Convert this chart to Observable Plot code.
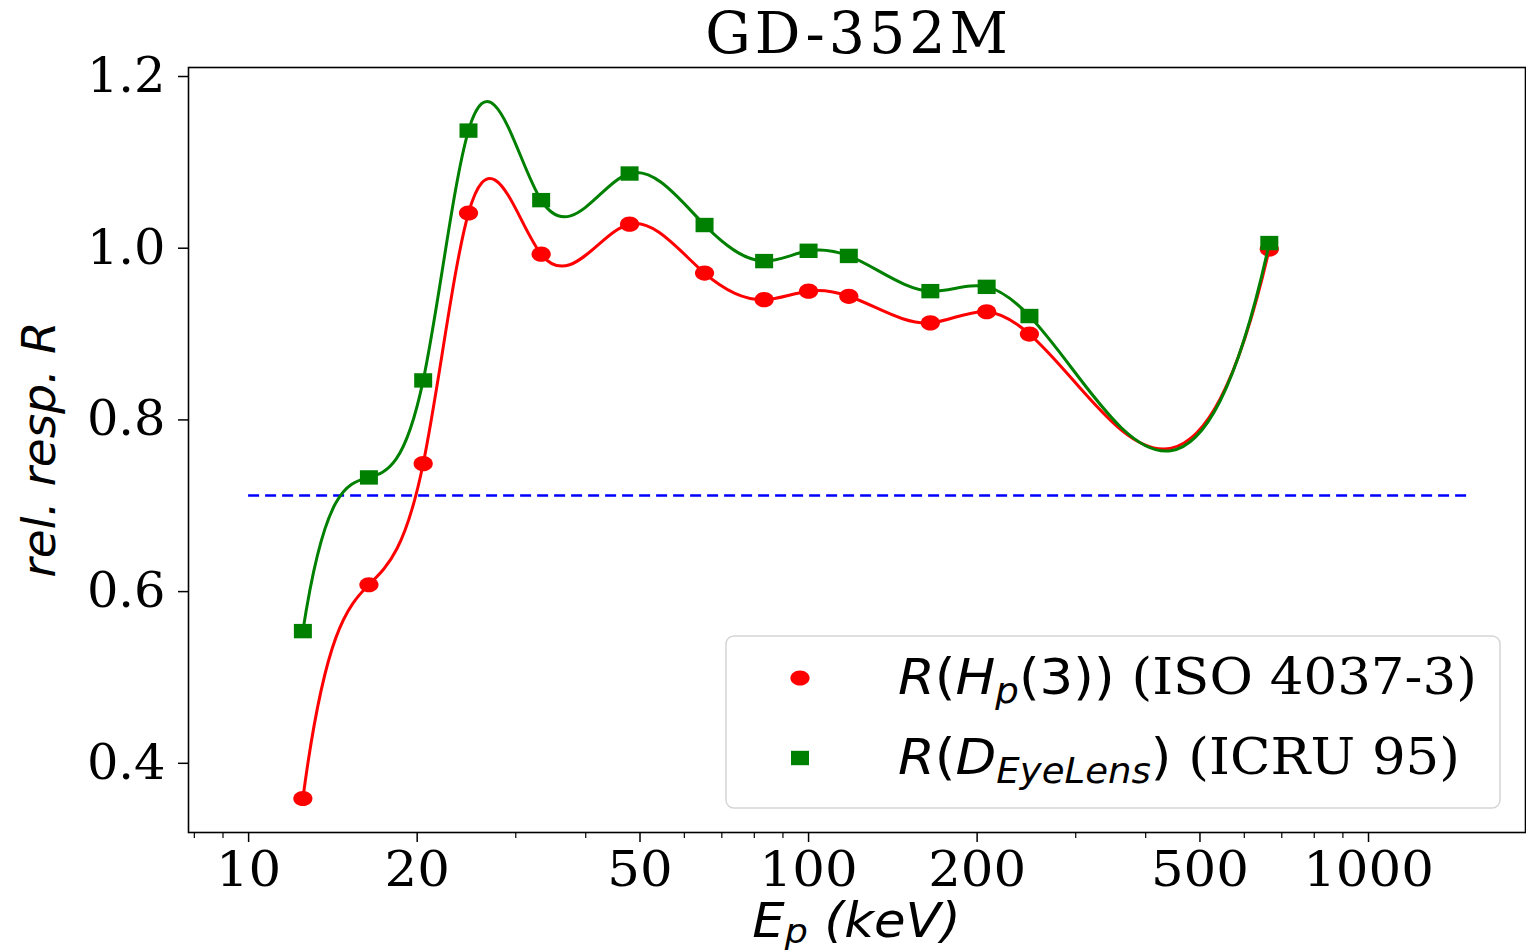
<!DOCTYPE html>
<html>
<head>
<meta charset="utf-8">
<script src="https://cdn.jsdelivr.net/npm/d3@7"></script>
<script src="https://cdn.jsdelivr.net/npm/@observablehq/plot@0.6"></script>
<style>
  body { margin: 0; background: #fff; }
  #wrap { position: relative; width: 1526px; height: 951px; overflow: hidden; background: #fff; }
  #title { position: absolute; top: 0; left: 188px; width: 1337px; height: 66px; line-height: 66px;
           font-family: "DejaVu Serif"; font-size: 57px; letter-spacing: 4px; text-indent: 4px;
           text-align: center; white-space: nowrap; color: #000; z-index: 2; }
  #chart svg { display: block; }
</style>
</head>
<body>
<div id="wrap">
  <div id="chart"></div>
  <div id="title">GD-352M</div>
</div>
<script>
// ---- data ----
const energies = [12.5, 16.4, 20.5, 24.7, 33.3, 47.9, 65.2, 83.3, 100, 118, 165, 208, 248, 665];
const respHp3  = [0.359, 0.608, 0.749, 1.041, 0.993, 1.028, 0.971, 0.940, 0.950, 0.944, 0.913, 0.926, 0.900, 0.999];
const respEye  = [0.554, 0.733, 0.846, 1.137, 1.056, 1.087, 1.027, 0.985, 0.997, 0.991, 0.950, 0.955, 0.921, 1.006];
const thresholdValue = [0.712];
const thresholdRange = [10, 1500];
const xTicks = [10, 20, 50, 100, 200, 500, 1000];
const xMinorTicks = [8, 9, 30, 40, 60, 70, 80, 90, 300, 400, 600, 700, 800, 900];
const yTicks = [0.4, 0.6, 0.8, 1.0, 1.2];
const xDomain = [7.81, 1907];
const yDomain = [0.3194, 1.2105];

const hpData = energies.map((e, i) => ({e, r: respHp3[i]}));
const eyeData = energies.map((e, i) => ({e, r: respEye[i]}));

const W = 1526, H = 951, MT = 67, MB = 119, ML = 188, MR = 1;

// not-a-knot cubic spline through the points, as a function of screen x (log energy)
function splineCurve(context) {
  let xs, ys;
  return {
    areaStart() {}, areaEnd() {},
    lineStart() { xs = []; ys = []; },
    point(x, y) { xs.push(+x); ys.push(+y); },
    lineEnd() {
      const n = xs.length;
      if (!n) return;
      context.moveTo(xs[0], ys[0]);
      if (n < 4) { for (let i = 1; i < n; i++) context.lineTo(xs[i], ys[i]); return; }
      const h = [], s = [];
      for (let i = 0; i < n - 1; i++) { h.push(xs[i + 1] - xs[i]); s.push((ys[i + 1] - ys[i]) / h[i]); }
      const A = Array.from({length: n}, () => new Array(n).fill(0));
      const b = new Array(n).fill(0);
      A[0][0] = -h[1]; A[0][1] = h[0] + h[1]; A[0][2] = -h[0];
      for (let i = 1; i < n - 1; i++) {
        A[i][i - 1] = h[i - 1]; A[i][i] = 2 * (h[i - 1] + h[i]); A[i][i + 1] = h[i];
        b[i] = 6 * (s[i] - s[i - 1]);
      }
      A[n - 1][n - 3] = -h[n - 2]; A[n - 1][n - 2] = h[n - 2] + h[n - 3]; A[n - 1][n - 1] = -h[n - 3];
      for (let c = 0; c < n; c++) {
        let p = c;
        for (let r = c + 1; r < n; r++) if (Math.abs(A[r][c]) > Math.abs(A[p][c])) p = r;
        [A[c], A[p]] = [A[p], A[c]]; [b[c], b[p]] = [b[p], b[c]];
        for (let r = c + 1; r < n; r++) {
          const f = A[r][c] / A[c][c];
          if (!f) continue;
          for (let k = c; k < n; k++) A[r][k] -= f * A[c][k];
          b[r] -= f * b[c];
        }
      }
      const M = new Array(n).fill(0);
      for (let r = n - 1; r >= 0; r--) {
        let sum = b[r];
        for (let k = r + 1; k < n; k++) sum -= A[r][k] * M[k];
        M[r] = sum / A[r][r];
      }
      for (let i = 0; i < n - 1; i++) {
        const hi = h[i];
        const dL = s[i] - hi * (2 * M[i] + M[i + 1]) / 6;
        const dR = s[i] + hi * (M[i] + 2 * M[i + 1]) / 6;
        context.bezierCurveTo(xs[i] + hi / 3, ys[i] + dL * hi / 3,
                              xs[i + 1] - hi / 3, ys[i + 1] - dR * hi / 3,
                              xs[i + 1], ys[i + 1]);
      }
    }
  };
}

// slightly wide marker shapes, as in the reference
const K = 0.5523;
const ellipseSymbol = {
  draw(ctx, size) {
    const r = Math.sqrt(size / Math.PI), rx = r * 1.2, ry = r * 0.95;
    ctx.moveTo(rx, 0);
    ctx.bezierCurveTo(rx, K * ry, K * rx, ry, 0, ry);
    ctx.bezierCurveTo(-K * rx, ry, -rx, K * ry, -rx, 0);
    ctx.bezierCurveTo(-rx, -K * ry, -K * rx, -ry, 0, -ry);
    ctx.bezierCurveTo(K * rx, -ry, rx, -K * ry, rx, 0);
    ctx.closePath();
  }
};
const rectSymbol = {
  draw(ctx, size) {
    const r = Math.sqrt(size / Math.PI), w = r * 1.125, hh = r * 0.9;
    ctx.moveTo(-w, -hh); ctx.lineTo(w, -hh); ctx.lineTo(w, hh); ctx.lineTo(-w, hh); ctx.closePath();
  }
};

const chart = Plot.plot({
  width: W,
  height: H,
  marginTop: MT,
  marginBottom: MB,
  marginLeft: ML,
  marginRight: MR,
  x: {type: "log", domain: xDomain},
  y: {domain: yDomain},
  style: {fontFamily: "DejaVu Serif", fontSize: "48px", background: "white", color: "black", overflow: "visible"},
  marks: [
    Plot.ruleY(thresholdValue, {y: d => d, x1: thresholdRange[0], x2: thresholdRange[1],
      stroke: "blue", strokeWidth: 2.5, strokeDasharray: "11,6"}),
    Plot.line(hpData, {x: "e", y: "r", stroke: "red", strokeWidth: 3, curve: splineCurve}),
    Plot.dot(hpData, {x: "e", y: "r", fill: "red", r: 8, symbol: ellipseSymbol}),
    Plot.line(eyeData, {x: "e", y: "r", stroke: "green", strokeWidth: 3, curve: splineCurve}),
    Plot.dot(eyeData, {x: "e", y: "r", fill: "green", r: 8, symbol: rectSymbol}),
    Plot.frame({stroke: "black", strokeWidth: 1.6}),
    Plot.axisX(xTicks, {tickFormat: d => String(d), tickSize: 10, tickPadding: 9, label: null, strokeWidth: 1.5}),
    Plot.axisX(xMinorTicks, {tickFormat: () => "", tickSize: 6, label: null, strokeWidth: 1.2}),
    Plot.axisY(yTicks, {tickFormat: d => d.toFixed(1), tickSize: 10, tickPadding: 13, label: null, strokeWidth: 1.5})
  ]
});
document.getElementById("chart").appendChild(chart);

const svg = d3.select(chart);

// widen text horizontally about its anchor x (the reference is slightly stretched)
function widen(sel, k) {
  sel.each(function () {
    const el = d3.select(this);
    const x = parseFloat(el.attr("x")) || 0;
    const t = el.attr("transform") || "";
    el.attr("transform", `${t} translate(${x},0) scale(${k},1) translate(${-x},0)`.trim());
  });
}
widen(svg.selectAll("g[aria-label='x-axis tick label'] text"), 1.07);
widen(svg.selectAll("g[aria-label='y-axis tick label'] text"), 1.03);

const midY = (MT + (H - MB)) / 2;
const midX = (ML + (W - MR)) / 2;

// y label
svg.append("text")
  .attr("transform", `translate(55,${midY}) rotate(-90)`)
  .attr("text-anchor", "middle")
  .style("font-family", "DejaVu Sans").style("font-style", "italic").style("font-size", "47px")
  .text("rel. resp. R");

// x label
const xl = svg.append("text")
  .attr("x", midX).attr("y", 937)
  .attr("text-anchor", "middle")
  .style("font-family", "DejaVu Sans").style("font-style", "italic").style("font-size", "48px");
xl.append("tspan").text("E");
xl.append("tspan").attr("dy", 6).style("font-size", "34px").text("p");
xl.append("tspan").attr("dy", -6).text(" (keV)");
widen(xl, 1.07);

// legend
const lg = svg.append("g").attr("text-anchor", "start");
lg.append("rect").attr("x", 726).attr("y", 636).attr("width", 774).attr("height", 172)
  .attr("rx", 8).attr("fill", "white").attr("fill-opacity", 0.8)
  .attr("stroke", "#d5d5d5").attr("stroke-width", 1.5);
lg.append("path").attr("transform", "translate(800,678)").attr("fill", "red")
  .attr("d", (() => { const p = d3.path(); ellipseSymbol.draw(p, 64 * Math.PI); return p.toString(); })());
lg.append("path").attr("transform", "translate(800,758)").attr("fill", "green")
  .attr("d", (() => { const p = d3.path(); rectSymbol.draw(p, 64 * Math.PI); return p.toString(); })());

function legendRow(y, parts) {
  const t = lg.append("text").attr("x", 898).attr("y", y)
    .attr("text-anchor", "start").style("font-size", "50px");
  for (const p of parts) {
    const ts = t.append("tspan").text(p.t)
      .style("font-family", p.serif ? "DejaVu Serif" : "DejaVu Sans")
      .style("font-style", p.it ? "italic" : "normal");
    if (p.sub) ts.attr("dy", 9).style("font-size", "35px");
    if (p.unsub) ts.attr("dy", -9);
  }
  widen(t, 1.06);
}
legendRow(694, [
  {t: "R", it: true}, {t: "("}, {t: "H", it: true}, {t: "p", it: true, sub: true},
  {t: "(3))", unsub: true}, {t: "\u00a0(ISO 4037-3)", serif: true}
]);
legendRow(774, [
  {t: "R", it: true}, {t: "("}, {t: "D", it: true}, {t: "EyeLens", it: true, sub: true},
  {t: ")", unsub: true}, {t: "\u00a0(ICRU 95)", serif: true}
]);
</script>
</body>
</html>
